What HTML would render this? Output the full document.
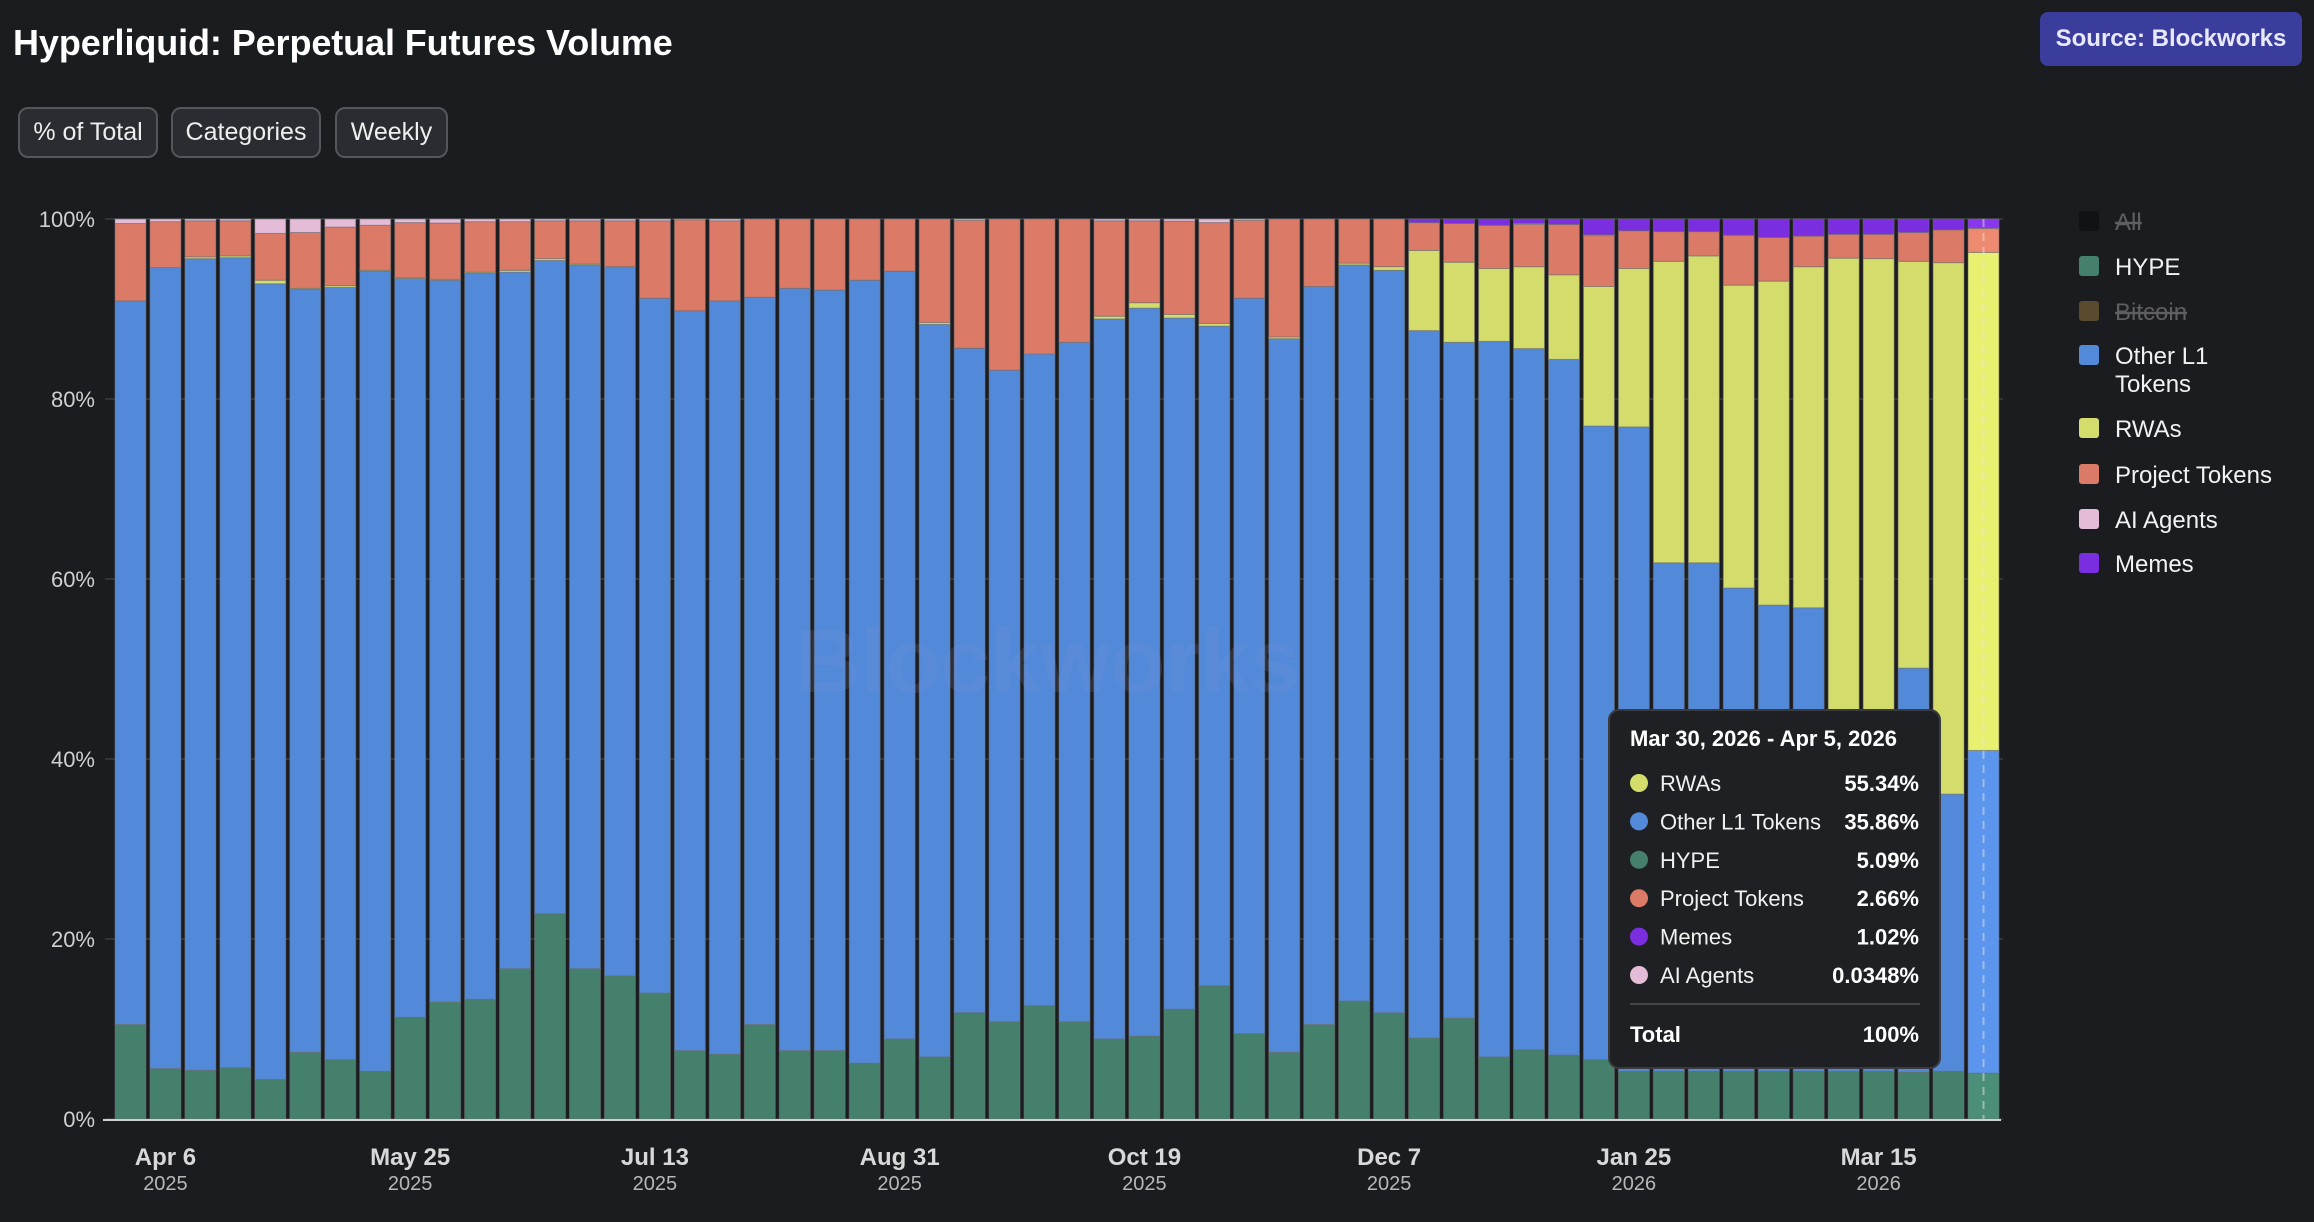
<!DOCTYPE html>
<html><head><meta charset="utf-8">
<style>
html,body{margin:0;padding:0;background:#1b1c20;width:2314px;height:1222px;overflow:hidden;font-family:"Liberation Sans",Arial,sans-serif;color:#fff}
.title{position:absolute;left:13px;top:22px;font-size:36px;font-weight:bold;letter-spacing:-0.1px}
.btn{position:absolute;top:107px;height:47px;border:2px solid #55565c;background:#2b2c31;border-radius:10px;font-size:25px;line-height:47px;text-align:center;color:#eee;box-sizing:content-box;white-space:nowrap}
.src{position:absolute;left:2040px;top:12px;width:262px;height:54px;background:#3b3d9c;border-radius:8px;font-size:24px;font-weight:bold;line-height:54px;text-align:center;color:#e8e8ff}
svg{position:absolute;left:0;top:0}
</style></head><body>
<div class="title">Hyperliquid: Perpetual Futures Volume</div>
<div class="btn" style="left:18px;width:136px">% of Total</div>
<div class="btn" style="left:171px;width:146px">Categories</div>
<div class="btn" style="left:335px;width:109px">Weekly</div>
<div class="src">Source: Blockworks</div>
<svg id="chart" width="2314" height="1222"></svg>
<script>
const hype=[10.5,5.6,5.4,5.7,4.4,7.4,6.6,5.3,11.3,13.0,13.3,16.7,22.8,16.7,15.9,14.0,7.6,7.2,10.5,7.6,7.6,6.2,8.9,6.9,11.8,10.8,12.6,10.8,8.9,9.2,12.2,14.8,9.5,7.4,10.5,13.1,11.8,9.0,11.2,6.9,7.7,7.1,6.6,5.3,5.3,5.3,5.3,5.3,5.3,5.3,5.3,5.2,5.3,5.09];
const otherL1=[80.4,89.0,90.1,90.0,88.4,84.8,85.8,88.9,82.1,80.2,80.7,77.4,72.6,78.2,78.8,77.2,82.2,83.7,80.8,84.7,84.5,87.0,85.3,81.4,73.8,72.4,72.4,75.5,80.0,80.9,76.8,73.3,81.7,79.3,82.0,81.8,82.5,78.6,75.1,79.5,77.9,77.3,70.4,71.6,56.5,56.5,53.7,51.8,51.5,38.7,36.7,44.9,30.8,35.86];
const rwa=[0,0,0.2,0.2,0.4,0.1,0.2,0.1,0.1,0.1,0.1,0.2,0.2,0.1,0,0,0,0,0,0,0,0,0,0.2,0,0,0,0,0.3,0.6,0.4,0.3,0,0.2,0,0.2,0.4,8.9,8.9,8.1,9.1,9.4,15.5,17.6,33.5,34.1,33.65,36.0,37.9,51.65,53.6,45.2,59.05,55.34];
const project=[8.6,5.1,4.0,3.9,5.2,6.2,6.5,5.0,6.1,6.25,5.6,5.4,4.2,4.8,5.1,8.6,10.1,8.9,8.7,7.7,7.9,6.8,5.8,11.5,14.2,16.8,15.0,13.7,10.6,9.1,10.35,11.2,8.65,13.1,7.5,4.9,5.3,3.1,4.3,4.8,4.7,5.6,5.65,4.2,3.3,2.7,5.55,4.85,3.4,2.65,2.7,3.2,3.65,2.66];
const aiAgents=[0.5,0.3,0.2,0.2,1.6,1.5,0.9,0.7,0.4,0.45,0.3,0.3,0.2,0.2,0.2,0.2,0.1,0.2,0,0,0,0,0,0,0.15,0,0,0,0.2,0.2,0.25,0.4,0.15,0,0,0,0,0,0,0,0.1,0,0.1,0,0,0,0,0,0,0,0,0,0,0.0348];
const memes=[0,0,0,0,0,0,0,0,0,0,0,0,0,0,0,0,0,0,0,0,0,0,0,0,0,0,0,0,0,0,0,0,0,0,0,0,0,0.4,0.5,0.7,0.5,0.6,1.75,1.3,1.4,1.4,1.8,2.05,1.9,1.7,1.7,1.5,1.2,1.02];
const yTicks=[0,20,40,60,80,100];
const xLabelIdx=[1,8,15,22,29,36,43,50];
const xLabels=["Apr 6","May 25","Jul 13","Aug 31","Oct 19","Dec 7","Jan 25","Mar 15"];
const xYears=["2025","2025","2025","2025","2025","2025","2026","2026"];

const NS="http://www.w3.org/2000/svg";
const svg=document.getElementById('chart');
const X0=113,X1=2001,Y0=1119,Y100=219;
const n=hype.length, band=(X1-X0)/n, bw=31;
const yS=v=>Y0-(Y0-Y100)*v/100;
const xS=i=>X0+band*i+(band-bw)/2;
function mk(t,a,p){const e=document.createElementNS(NS,t);for(const k in a)e.setAttribute(k,a[k]);(p||svg).appendChild(e);return e;}

yTicks.forEach(t=>{
  const g=mk('line',{x1:105,x2:X1+2,y1:yS(t),y2:yS(t),stroke:'#34353a','stroke-width':2});
  
  
  const l=mk('text',{x:95,y:yS(t)+8,'text-anchor':'end','font-size':22,fill:'#d0d0d0'});
  l.textContent=t+'%';
  
  
});

const series=[
 {d:hype,c:'#44806c',h:'#4c8f78',name:'hype'},
 {d:otherL1,c:'#5389d9',h:'#5b95ee',name:'other-l1'},
 {d:rwa,c:'#d4dc6c',h:'#e8f070',name:'rwa'},
 {d:project,c:'#db7a66',h:'#ee8a70',name:'project'},
 {d:aiAgents,c:'#e4bcd8',h:'#f0c8e4',name:'ai-agents'},
 {d:memes,c:'#7a2ee0',h:'#8a35ee',name:'memes'}];
for(let i=0;i<n;i++){
  let tot=0;series.forEach(s=>tot+=s.d[i]);
  let acc=0;const last=i===n-1;
  series.forEach(s=>{
    const v=s.d[i]/tot*100;if(v<=0)return;
    const yt=yS(acc+v),yb=yS(acc);
    const r=mk('rect',{x:xS(i),y:yt,width:bw,height:Math.max(yb-yt,0.5),fill:last?s.h:s.c,stroke:'rgba(110,110,110,0.55)','stroke-width':1});
    
    
    acc+=v;
  });
}
const wm=mk('text',{x:1048,y:692,'text-anchor':'middle','font-size':90,'font-weight':'bold',fill:'rgba(130,150,210,0.16)'});
wm.textContent='Blockworks';



const hl=mk('line',{x1:xS(n-1)+bw/2,x2:xS(n-1)+bw/2,y1:Y100,y2:Y0,stroke:'rgba(230,230,230,0.5)','stroke-width':2,'stroke-dasharray':'8 6'});


const bl=mk('line',{x1:103,x2:X1,y1:Y0+1,y2:Y0+1,stroke:'#cfd0d4','stroke-width':2});


xLabelIdx.forEach((idx,k)=>{
  const cx=X0+band*idx+band/2;
  const t=mk('text',{x:cx,y:1165,'text-anchor':'middle','font-size':24,'font-weight':'bold',fill:'#d8d8d8'});
  t.textContent=xLabels[k];
  
  
  const y=mk('text',{x:cx,y:1190,'text-anchor':'middle','font-size':20,fill:'#b8b8b8'});
  y.textContent=xYears[k];
  
  
});
const legItems=[['All','#111214',true,221],['HYPE','#44806c',false,266],['Bitcoin','#5a4a2e',true,311],['Other L1','#5389d9',false,355],['RWAs','#d4dc6c',false,428],['Project Tokens','#db7a66',false,474],['AI Agents','#e4bcd8',false,519],['Memes','#7a2ee0',false,563]];
legItems.forEach(it=>{
  const g=mk('g',{});
  
  
  mk('rect',{x:2079,y:it[3]-10,width:20,height:20,rx:3,fill:it[1]},g);
  const t=mk('text',{x:2115,y:it[3]+9,'font-size':24,fill:it[2]?'#5f5f63':'#f2f2f2','text-decoration':it[2]?'line-through':'none'},g);
  t.textContent=it[0];
  if(it[0]==='Other L1'){const t2=mk('text',{x:2115,y:it[3]+37,'font-size':24,fill:'#f2f2f2'},g);t2.textContent='Tokens';}
});
const tg=mk('g',{});


mk('rect',{x:1609,y:710,width:331,height:358,rx:10,fill:'#1f2023',stroke:'#3a3b40','stroke-width':2},tg);
const tt=mk('text',{x:1630,y:746,'font-size':22,'font-weight':'bold',fill:'#fff'},tg);tt.textContent='Mar 30, 2026 - Apr 5, 2026';
const tipNames=['RWAs','Other L1 Tokens','HYPE','Project Tokens','Memes','AI Agents'];
const tipVals=['55.34%','35.86%','5.09%','2.66%','1.02%','0.0348%'];
const tipCols=['#d4dc6c','#5389d9','#44806c','#db7a66','#7a2ee0','#e4bcd8'];
tipNames.forEach((nm,k)=>{
  const cy=783+k*38.4;
  mk('circle',{cx:1639,cy:cy,r:9,fill:tipCols[k]},tg);
  const a=mk('text',{x:1660,y:cy+8,'font-size':22,fill:'#f0f0f0'},tg);a.textContent=nm;
  const b=mk('text',{x:1919,y:cy+8,'font-size':22,'font-weight':'bold','text-anchor':'end',fill:'#fff'},tg);b.textContent=tipVals[k];
});
mk('line',{x1:1630,x2:1920,y1:1004,y2:1004,stroke:'#45464b','stroke-width':2},tg);
const tl=mk('text',{x:1630,y:1042,'font-size':22,'font-weight':'bold',fill:'#fff'},tg);tl.textContent='Total';
const tv=mk('text',{x:1919,y:1042,'font-size':22,'font-weight':'bold','text-anchor':'end',fill:'#fff'},tg);tv.textContent='100%';
</script>
</body></html>
